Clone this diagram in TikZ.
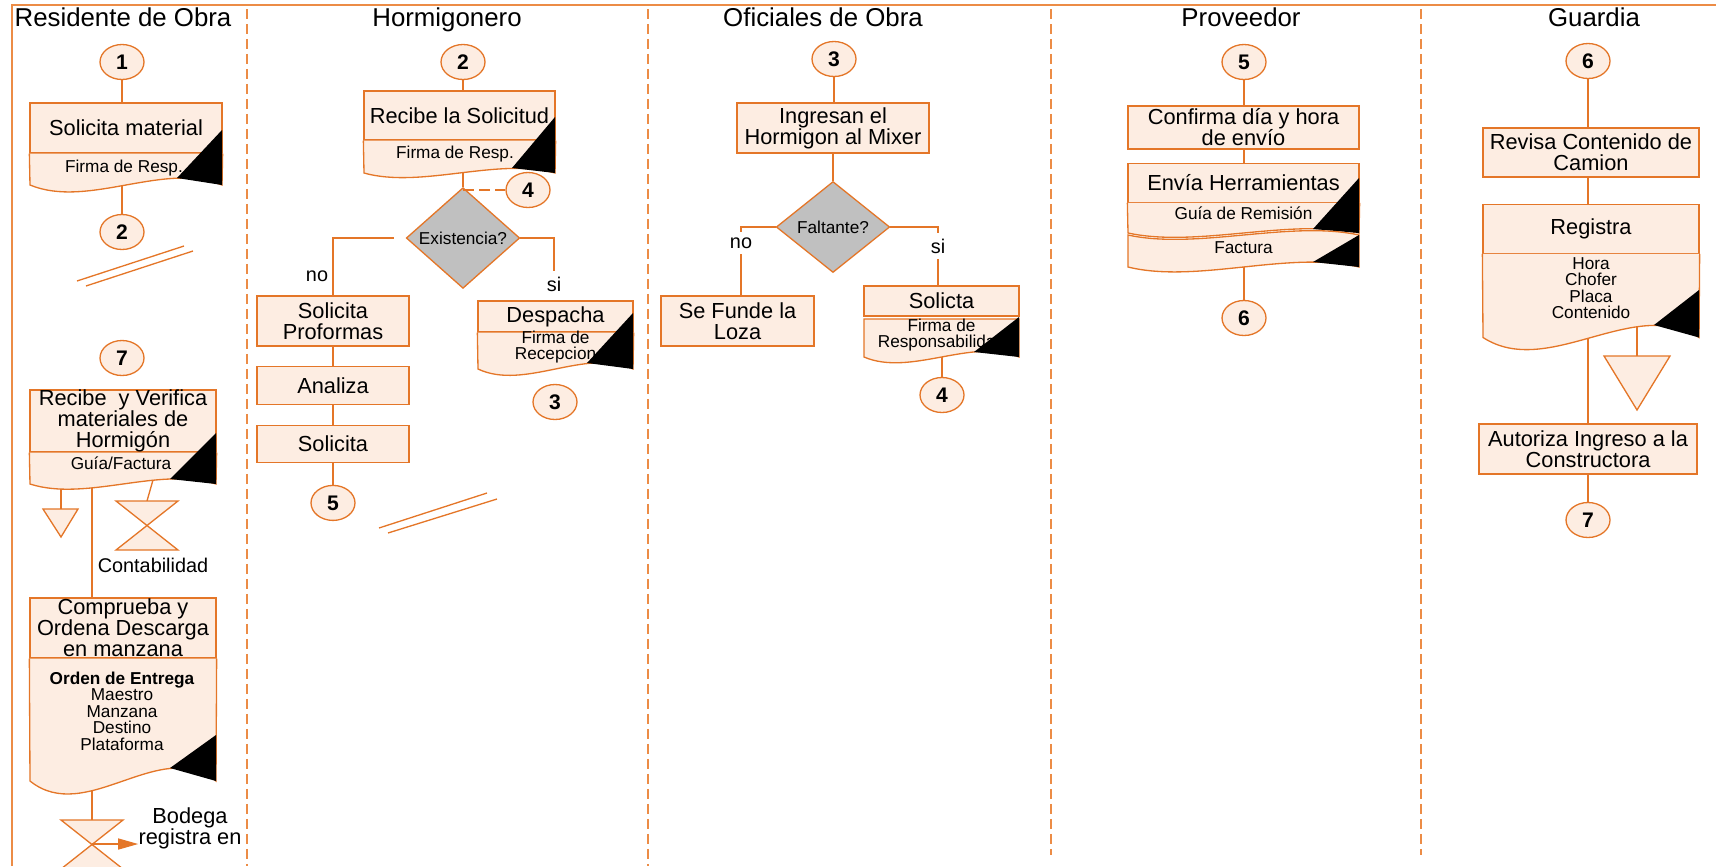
\documentclass[tikz,border=0pt]{standalone}
\usepackage{fontspec}
\setmainfont{Liberation Sans}
\usepackage{xcolor}
\usepackage{tikz}
\usetikzlibrary{shapes.geometric, arrows.meta, positioning, calc}
\definecolor{myorange}{RGB}{228,118,40}
\definecolor{mylane}{RGB}{236,140,70}
\definecolor{mypeach}{RGB}{253,237,226}
\definecolor{mygrey}{RGB}{192,192,192}
\newcommand{\mylanefont}{\fontsize{14.7}{15}\selectfont}
\newcommand{\mystepfont}{\fontsize{12.4}{11.9}\selectfont}
\newcommand{\mynotefont}{\fontsize{9.8}{9.4}\selectfont}
\newcommand{\mynumfont}{\fontsize{12}{12}\selectfont\bfseries}
\newcommand{\mylblfont}{\fontsize{11.3}{12}\selectfont}
\tikzset{
  lanetitle/.style={font=\mylanefont, inner sep=0pt, anchor=base},
  stepbox/.style={rectangle, draw=myorange, fill=mypeach, line width=0.75pt,
    inner sep=0pt, align=center, font=\mystepfont},
  notetext/.style={inner sep=0pt, align=center, font=\mynotefont},
  docshape/.style={draw=myorange, fill=mypeach, line width=0.75pt},
  flag/.style={fill=black},
  conn/.style={ellipse, draw=myorange, fill=mypeach, line width=0.75pt,
    minimum width=0.88cm, minimum height=0.7cm, inner sep=0pt, font=\mynumfont},
  decision/.style={diamond, draw=myorange, fill=mygrey, line width=0.75pt,
    minimum width=2.27cm, minimum height=1.82cm, inner sep=0pt, font=\mynotefont},
  branch/.style={inner sep=3pt, font=\mylblfont},
  line/.style={draw=myorange, line width=0.75pt},
  dashline/.style={draw=myorange, line width=0.75pt, dash pattern=on 0.22cm off 0.1cm},
  lane/.style={draw=mylane, line width=1pt},
  lanedash/.style={draw=mylane, line width=1pt, dash pattern=on 0.2cm off 0.1cm},
  store/.style={draw=myorange, fill=mypeach, line width=0.75pt},
  arrow/.style={-{Triangle[length=0.4cm, width=0.22cm]}, draw=myorange, line width=0.75pt}
}
\begin{document}
\begin{tikzpicture}[x=0.02cm, y=-0.02cm]
  \useasboundingbox (0,0) rectangle (1716,866);

  % Swimlanes
  \draw[lane] (12,866) -- (12,5) -- (1716,5);
  \draw[lanedash] (247,9) -- (247,866);
  \draw[lanedash] (648,9) -- (648,866);
  \draw[lanedash] (1051,9) -- (1051,855);
  \draw[lanedash] (1421,9) -- (1421,855);
  \node[lanetitle] (resid) at (123,26) {Residente de Obra};
  \node[lanetitle] (hormi) at (447,26) {Hormigonero};
  \node[lanetitle] (ofic) at (823,26) {Oficiales de Obra};
  \node[lanetitle] (prov) at (1241,26) {Proveedor};
  \node[lanetitle] (guard) at (1594,26) {Guardia};

  % Residente de Obra: solicitud
  \node[conn] (r1) at (122,62) {1};
  \node[stepbox, minimum width=3.84cm, minimum height=1cm] (solmat) at (126,128) {Solicita material};
  \draw[docshape] (solmat.south west) -- (30,185) .. controls (88,209) and (164,161) .. (222,185) -- (solmat.south east);
  \node[notetext] (solmatn) at (124,168) {Firma de Resp.};
  \fill[flag] (222,130) -- (177,178) -- (222,185) -- cycle;
  \coordinate (solmatb) at (122,186);
  \node[conn] (r2) at (122,232) {2};
  \draw[line] (r1) -- (r1 |- solmat.north);
  \draw[line] (solmatb) -- (r2);
  \draw[line] (77,281) -- (184,246);
  \draw[line] (86,286) -- (193,251);

  % Residente de Obra: recepcion
  \node[conn] (r7) at (122,358) {7};
  \node[stepbox, minimum width=3.72cm, minimum height=1.2cm] (recibe) at (123,421) {Recibe~ y Verifica\\materiales de\\Hormigón};
  \draw[docshape] (recibe.south west) -- (30,484) .. controls (86,502) and (160,466) .. (216,484) -- (recibe.south east);
  \node[notetext] (recibn) at (121,463) {Guía/Factura};
  \fill[flag] (216,433) -- (170,479) -- (216,484) -- cycle;
  \coordinate (recibb1) at (61,489);
  \coordinate (recibb2) at (92,488);
  \coordinate (recibb3) at (153,480);
  \coordinate (arch1) at (61,509);
  \coordinate (conta) at (147,501);
  \draw[line] (recibb1) -- (arch1);
  \draw[store] (43,509) -- (78,509) -- (61,537) -- cycle;
  \draw[line] (recibb3) -- (conta);
  \draw[store] (116,501) -- (178,501) -- (116,550) -- (178,550) -- cycle;
  \node[font=\mylblfont, inner sep=0pt] (contab) at (153,565) {Contabilidad};

  \node[stepbox, minimum width=3.72cm, minimum height=1.2cm] (compr) at (123,628) {Comprueba y\\Ordena Descarga\\en manzana};
  \draw[line] (recibb2) -- (recibb2 |- compr.north);
  \draw[docshape] (compr.south west) -- (30,781) .. controls (86,826) and (160,736) .. (216,781) -- (compr.south east);
  \node[notetext] (comprn) at (122,711) {\textbf{Orden de Entrega}\\Maestro\\Manzana\\Destino\\Plataforma};
  \fill[flag] (216,735) -- (170,768) -- (216,781) -- cycle;
  \coordinate (comprb) at (92,791);
  \coordinate (bodtop) at (92,820);
  \coordinate (bodx) at (92,844);
  \draw[line] (comprb) -- (bodtop);
  \draw[store] (61,820) -- (123,820) -- (61,869) -- (123,869) -- cycle;
  \node[font=\mystepfont, align=center, inner sep=0pt] (bodega) at (190,828) {Bodega\\registra en};
  \draw[arrow] (bodx) -- (bodx -| bodega.west);

  % Hormigonero
  \node[conn] (h2) at (463,62) {2};
  \node[stepbox, minimum width=3.82cm, minimum height=0.98cm] (recsol) at (459.5,115.5) {Recibe la Solicitud};
  \draw[docshape] (recsol.south west) -- (364,173) .. controls (421,189) and (498,157) .. (555,173) -- (recsol.south east);
  \node[notetext] (recsoln) at (455,154) {Firma de Resp.};
  \fill[flag] (555,117) -- (512,168) -- (555,173) -- cycle;
  \coordinate (recsolb) at (463,173);
  \node[decision] (exist) at (463,238) {Existencia?};
  \node[conn] (h4) at (528,190) {4};
  \draw[line] (h2) -- (h2 |- recsol.north);
  \draw[line] (recsolb) -- (exist.north);
  \draw[dashline] (h4.west -| exist.north) -- (h4.west);

  \node[stepbox, minimum width=3.04cm, minimum height=1cm] (prof) at (333,321) {Solicita\\Proformas};
  \node[stepbox, minimum width=3.04cm, minimum height=0.76cm, below=0.38cm of prof] (analiza) {Analiza};
  \node[stepbox, minimum width=3.04cm, minimum height=0.74cm, below=0.4cm of analiza] (solic) {Solicita};
  \node[conn, below=0.43cm of solic] (h5) {5};
  \node[branch] (hno) at (317,276) {no};
  \node[branch] (hsi) at (554,284) {si};
  \draw[line, shorten <=0.24cm] (exist.west) -| (prof.north);
  \draw[line] (exist.east) -| (hsi.north);
  \draw[line] (prof) -- (analiza);
  \draw[line] (analiza) -- (solic);
  \draw[line] (solic) -- (h5);
  \draw[line] (379,528) -- (487,493);
  \draw[line] (388,533) -- (497,499);

  \node[stepbox, minimum width=3.1cm, minimum height=0.62cm] (desp) at (555.5,316.5) {Despacha};
  \draw[docshape] (desp.south west) -- (478,369) .. controls (524.5,391) and (586.5,347) .. (633,369) -- (desp.south east);
  \node[notetext] (despn) at (555.5,347) {Firma de\\Recepcion};
  \fill[flag] (633,313) -- (587,363) -- (633,369) -- cycle;
  \node[conn] (h3) at (555,402) {3};

  % Oficiales de Obra
  \node[conn] (o3) at (834,59) {3};
  \node[stepbox, minimum width=3.84cm, minimum height=1cm] (ingr) at (833,128) {Ingresan el\\Hormigon al Mixer};
  \node[decision] (falt) at (833,227) {Faltante?};
  \node[stepbox, minimum width=3.06cm, minimum height=1cm] (funde) at (737.5,321) {Se Funde la\\Loza};
  \node[stepbox, minimum width=3.1cm, minimum height=0.6cm] (solicta) at (941.5,301) {Solicta};
  \draw[docshape] (864,319) -- (864,357) .. controls (910.5,377) and (972.5,337) .. (1019,357) -- (1019,319) -- cycle;
  \node[notetext] (solictan) at (941.5,335) {Firma de\\Responsabilidad};
  \fill[flag] (1019,317) -- (974,352) -- (1019,357) -- cycle;
  \coordinate (solictab) at (942,357);
  \node[conn] (o4) at (942,395) {4};
  \node[branch] (ono) at (741,243) {no};
  \node[branch] (osi) at (938,246) {si};
  \draw[line] (o3) -- (o3 |- ingr.north);
  \draw[line] (ingr) -- (falt);
  \draw[line] (falt.west) -| (ono.north);
  \draw[line] (ono.south) -- (ono.south |- funde.north);
  \draw[line] (falt.east) -| (osi.north);
  \draw[line] (osi.south) -- (osi.south |- solicta.north);
  \draw[line] (solictab) -- (o4);

  % Proveedor
  \node[conn] (p5) at (1244,62) {5};
  \node[stepbox, minimum width=4.62cm, minimum height=0.86cm] (confirma) at (1243.5,127.5) {Confirma día y hora\\de envío};
  \node[stepbox, minimum width=4.62cm, minimum height=0.78cm, below=0.26cm of confirma] (envia) {Envía Herramientas};
  \draw[docshape] (envia.south west) -- (1128,233) .. controls (1197,248) and (1290,218) .. (1359,233) -- (envia.south east);
  \node[notetext] (guia) at (1243.5,213) {Guía de Remisión};
  \fill[flag] (1359,178) -- (1313,229) -- (1359,233) -- cycle;
  \draw[docshape] (1128,235) -- (1128,267) .. controls (1197,284) and (1290,250) .. (1359,267) -- (1359,235) .. controls (1290,220) and (1197,250) .. (1128,235) -- cycle;
  \node[notetext] (factura) at (1243.5,248) {Factura};
  \fill[flag] (1359,235) -- (1313,262) -- (1359,267) -- cycle;
  \coordinate (facturab) at (1244,267);
  \node[conn] (p6) at (1244,318) {6};
  \draw[line] (p5) -- (p5 |- confirma.north);
  \draw[line] (confirma.south -| p5) -- (envia.north -| p5);
  \draw[line] (facturab) -- (p6);

  % Guardia
  \node[conn] (g6) at (1588,61) {6};
  \node[stepbox, minimum width=4.32cm, minimum height=0.98cm] (revisa) at (1591,152.5) {Revisa Contenido de\\Camion};
  \node[stepbox, minimum width=4.32cm, minimum height=0.98cm, below=0.52cm of revisa] (registra) {Registra};
  \draw[docshape] (registra.south west) -- (1483,337.5) .. controls (1548,379.5) and (1634,295.5) .. (1699,337.5) -- (registra.south east);
  \node[notetext] (registran) at (1591,288) {Hora\\Chofer\\Placa\\Contenido};
  \fill[flag] (1699,290) -- (1654,325) -- (1699,337.5) -- cycle;
  \coordinate (registrab) at (1588,338);
  \coordinate (registrac) at (1637,327);
  \coordinate (archtop) at (1637,356);
  \draw[store] (1604,356) -- (1670,356) -- (1637,410) -- cycle;
  \node[stepbox, minimum width=4.36cm, minimum height=1cm] (autoriza) at (1588,449) {Autoriza Ingreso a la\\Constructora};
  \node[conn] (g7) at (1588,520) {7};
  \draw[line] (g6) -- (g6 |- revisa.north);
  \draw[line] (revisa.south -| g6) -- (registra.north -| g6);
  \draw[line] (registrab) -- (registrab |- autoriza.north);
  \draw[line] (registrac) -- (archtop);
  \draw[line] (autoriza) -- (g7);
\end{tikzpicture}
\end{document}
